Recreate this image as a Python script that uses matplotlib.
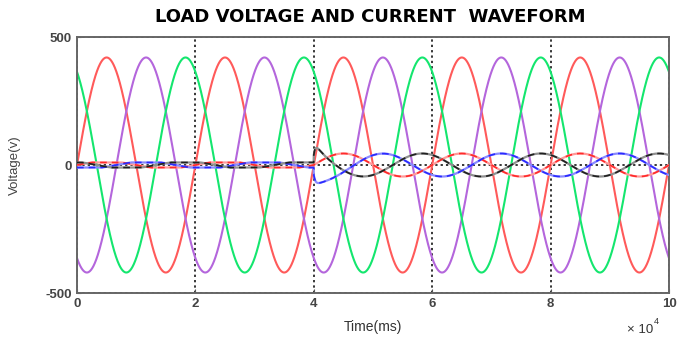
import numpy as np
import matplotlib
matplotlib.use("Agg")
import matplotlib.pyplot as plt

plt.rcParams['font.family'] = ['Liberation Sans', 'DejaVu Sans']

# ---- data ----
x_max = 100000                 # time axis end (x 10^4 units)
period = 20000                 # waveform period
switch_time = 40000            # load switched on
v_names = ["Va", "Vb", "Vc"]
v_amp = [420, 420, 420]        # voltage peak
v_phase_deg = [0, -120, 120]
v_colors = ["#ff5a5a", "#b466dc", "#14e66e"]

i_names = ["Ia", "Ib", "Ic"]
i_amp_before = [10, 10, 10]    # small current before switching
i_amp_after = [45, 45, 45]     # current after switching
i_phase_deg = [0, -120, 120]
i_trans_amp = [0, -40, 55]     # extra transient at switching
i_trans_rise = [300, 300, 300]
i_trans_tau = [1500, 2500, 1500]
i_colors = ["#ff2a2a", "#2a2aff", "#202020"]
i_light = ["#ff9a9a", "#8a8aff", "#909090"]

x_ticks = [0, 20000, 40000, 60000, 80000, 100000]
x_ticklabels = ["0", "2", "4", "6", "8", "10"]
y_ticks = [-500, 0, 500]
y_ticklabels = ["-500", "0", "500"]

# ---- figure ----
fig = plt.figure(figsize=(6.85, 3.43), dpi=100)
ax = fig.add_axes([77/685, 1-293/343, (669-77)/685, (293-37)/343])

t = np.linspace(0, x_max, 4001)
for a, ph, c in zip(v_amp, v_phase_deg, v_colors):
    y = a*np.sin(2*np.pi*t/period + np.deg2rad(ph))
    ax.plot(t, y, color=c, lw=1.5, zorder=2)

for ab, aa, ph, ta, tr, tau, c, cl in zip(i_amp_before, i_amp_after, i_phase_deg,
                                          i_trans_amp, i_trans_rise, i_trans_tau,
                                          i_colors, i_light):
    w = 2*np.pi*t/period + np.deg2rad(ph)
    pre = np.clip(ab*1.4*np.sin(w), -ab, ab)
    dt = np.maximum(t - switch_time, 0)
    post = aa*np.sin(w) + ta*(1 - np.exp(-dt/tr))*np.exp(-dt/tau)
    y = np.where(t < switch_time, pre, post)
    ax.plot(t, y, color=cl, lw=1.6, zorder=3)
    ax.plot(t, y, color=c, lw=1.2, ls=(0, (4, 3)), zorder=4)

ax.set_xlim(0, x_max)
ax.set_ylim(-500, 500)
ax.set_xticks(x_ticks)
ax.set_xticklabels(x_ticklabels)
ax.set_yticks(y_ticks)
ax.set_yticklabels(y_ticklabels)
ax.grid(True, color="black", ls=(0, (1.5, 2.0)), lw=1.1)
ax.tick_params(direction="in", length=3, colors="#555555", labelcolor="#444444",
               labelsize=9.5)
for lab in ax.get_xticklabels() + ax.get_yticklabels():
    lab.set_fontweight("bold")
for s in ax.spines.values():
    s.set_color("#666666")
    s.set_linewidth(1.4)

fig.text(370/685, 1-17/343, "LOAD VOLTAGE AND CURRENT  WAVEFORM", fontsize=13,
         fontweight="bold", color="black", ha="center", va="center",
         family="DejaVu Sans")
ax.set_xlabel("Time(ms)", fontsize=10, color="#333333", labelpad=7)
fig.text(15/685, 1-165/343, "Voltage(v)", fontsize=9.5, color="#444444",
         rotation=90, ha="center", va="center")
fig.text(627/685, 1-330/343, "\u00d7 10", fontsize=9.5, color="#333333",
         va="center", ha="left")
fig.text(654/685, 1-322/343, "4", fontsize=6.5, color="#333333",
         va="center", ha="left")

fig.savefig("out.png", dpi=100)
